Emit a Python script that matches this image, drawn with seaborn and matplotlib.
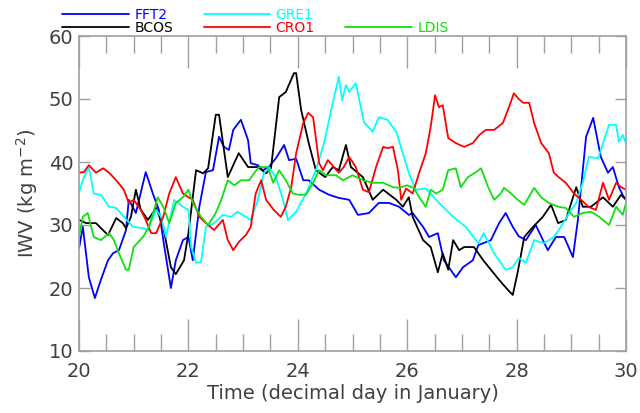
import seaborn as sns
import matplotlib.pyplot as plt
import pandas as pd
import numpy as np
from matplotlib.ticker import MultipleLocator

sns.set_style("white")
plt.rcParams['font.family'] = ['DejaVu Sans']

# IWV series (day, value)
fft2_day = [20.0, 20.07, 20.18, 20.29, 20.4, 20.53, 20.62, 20.73, 20.86, 20.91, 21.04, 21.22, 21.35,
            21.46, 21.55, 21.68, 21.77, 21.9, 22.0, 22.08, 22.2, 22.32, 22.45, 22.56, 22.65, 22.74,
            22.82, 22.96, 23.09, 23.14, 23.27, 23.36, 23.47, 23.6, 23.75, 23.84, 23.97, 24.1, 24.2,
            24.39, 24.57, 24.75, 24.94, 25.1, 25.3, 25.48, 25.67, 25.85, 26.03, 26.1, 26.29, 26.4,
            26.56, 26.67, 26.89, 27.02, 27.2, 27.3, 27.53, 27.68, 27.8, 27.93, 28.04, 28.17, 28.35,
            28.57, 28.72, 28.87, 29.03, 29.12, 29.27, 29.4, 29.54, 29.67, 29.76, 29.87, 29.96, 30.0]
fft2_iwv = [26.3, 29.7, 21.7, 18.4, 21.3, 24.4, 25.5, 26.0, 29.2, 34.0, 31.9, 38.4, 35.0,
            32.4, 27.1, 20.0, 24.4, 27.6, 28.1, 24.4, 32.9, 38.4, 38.7, 44.0, 42.4, 41.9,
            45.1, 46.7, 43.5, 39.8, 39.5, 38.7, 39.2, 40.6, 42.7, 40.3, 40.5, 37.1, 37.1,
            35.6, 34.8, 34.3, 34.0, 31.6, 31.9, 33.5, 33.5, 32.9, 31.6, 31.9, 29.7, 28.1,
            28.7, 24.4, 21.7, 23.3, 24.4, 26.8, 27.6, 30.3, 31.9, 29.7, 28.2, 27.6, 30.0,
            26.0, 28.1, 28.1, 24.9, 30.8, 44.0, 47.0, 40.8, 38.3, 39.2, 36.0, 34.4, 34.4]

bcos_day = [20.0, 20.13, 20.31, 20.53, 20.68, 20.8, 20.86, 20.95, 21.04, 21.13, 21.26, 21.41, 21.54,
            21.68, 21.77, 21.92, 22.0, 22.14, 22.27, 22.36, 22.5, 22.56, 22.72, 22.92, 23.09, 23.27,
            23.42, 23.51, 23.66, 23.78, 23.93, 23.97, 24.06, 24.2, 24.33, 24.5, 24.64, 24.75, 24.88,
            24.97, 25.19, 25.37, 25.56, 25.8, 25.92, 26.03, 26.1, 26.29, 26.43, 26.56, 26.65, 26.75,
            26.84, 26.95, 27.04, 27.22, 27.39, 27.53, 27.68, 27.84, 27.93, 28.02, 28.14, 28.3, 28.48,
            28.63, 28.76, 28.9, 29.09, 29.21, 29.36, 29.58, 29.76, 29.91, 30.0]
bcos_iwv = [30.8, 30.3, 30.3, 28.4, 31.1, 30.3, 29.5, 31.3, 35.6, 32.4, 30.8, 32.7, 29.7,
            23.3, 22.2, 24.4, 28.7, 38.7, 38.2, 39.0, 47.5, 47.5, 37.6, 41.4, 39.2, 39.2,
            38.2, 39.0, 50.3, 51.1, 54.1, 54.1, 48.3, 43.0, 38.7, 37.6, 39.2, 38.7, 42.7,
            39.2, 37.6, 34.0, 35.6, 34.0, 32.9, 34.4, 31.3, 27.6, 26.5, 22.5, 25.5, 22.9,
            27.6, 26.0, 26.5, 26.5, 24.4, 22.9, 21.3, 19.7, 18.9, 22.5, 28.1, 29.7, 31.3,
            33.2, 30.3, 30.8, 36.0, 32.9, 32.9, 34.4, 32.9, 34.8, 34.0]

gre1_day = [20.0, 20.09, 20.18, 20.27, 20.4, 20.55, 20.68, 20.82, 20.99, 21.17, 21.26, 21.41, 21.5,
            21.59, 21.74, 21.9, 22.0, 22.05, 22.14, 22.23, 22.32, 22.47, 22.63, 22.78, 22.9, 23.05,
            23.14, 23.27, 23.38, 23.47, 23.6, 23.73, 23.82, 23.97, 24.15, 24.33, 24.48, 24.64, 24.75,
            24.81, 24.88, 24.94, 25.06, 25.21, 25.37, 25.48, 25.64, 25.8, 25.92, 26.03, 26.16, 26.34,
            26.58, 26.84, 27.07, 27.3, 27.4, 27.59, 27.8, 27.93, 28.04, 28.17, 28.32, 28.5, 28.68,
            28.81, 28.96, 29.09, 29.21, 29.32, 29.49, 29.6, 29.69, 29.82, 29.87, 29.94, 30.0]
gre1_iwv = [35.2, 37.6, 39.2, 35.0, 34.8, 32.9, 32.7, 31.3, 29.7, 29.5, 29.2, 32.4, 31.3,
            28.1, 34.0, 32.9, 32.4, 26.5, 24.0, 24.1, 29.7, 30.3, 31.6, 31.3, 32.1, 31.3,
            30.8, 34.0, 38.2, 39.2, 37.6, 34.0, 30.8, 32.1, 35.0, 38.7, 43.0, 49.4, 53.5,
            49.8, 52.2, 51.1, 52.5, 46.3, 44.8, 47.1, 46.7, 44.8, 41.4, 38.2, 35.6, 35.8,
            33.5, 31.3, 29.7, 27.1, 28.7, 25.5, 22.9, 23.3, 24.8, 24.0, 27.6, 27.1, 28.1,
            29.7, 31.9, 33.5, 36.7, 40.8, 40.6, 43.5, 45.9, 45.9, 43.2, 44.3, 43.0]

cro1_day = [20.0, 20.09, 20.18, 20.31, 20.44, 20.55, 20.71, 20.82, 20.91, 21.0, 21.13, 21.22, 21.32,
            21.41, 21.54, 21.65, 21.77, 21.9, 22.0, 22.08, 22.2, 22.32, 22.47, 22.63, 22.72, 22.82,
            22.92, 23.05, 23.14, 23.23, 23.33, 23.42, 23.56, 23.69, 23.78, 23.88, 23.97, 24.1, 24.19,
            24.28, 24.39, 24.46, 24.55, 24.66, 24.75, 24.84, 24.94, 25.06, 25.19, 25.3, 25.43, 25.56,
            25.64, 25.74, 25.83, 25.89, 25.98, 26.1, 26.22, 26.34, 26.43, 26.51, 26.58, 26.65, 26.75,
            26.89, 27.04, 27.2, 27.32, 27.44, 27.59, 27.75, 27.86, 27.95, 28.04, 28.12, 28.23, 28.32,
            28.45, 28.59, 28.68, 28.77, 28.9, 29.05, 29.18, 29.31, 29.45, 29.58, 29.69, 29.82, 29.91,
            30.0]
cro1_iwv = [38.3, 38.4, 39.5, 38.3, 39.0, 38.3, 36.8, 35.6, 33.5, 34.0, 32.4, 30.8, 28.7,
            28.7, 31.3, 35.0, 37.6, 35.0, 34.4, 34.0, 31.3, 30.3, 29.2, 30.8, 27.6, 26.0,
            27.3, 28.4, 29.7, 35.0, 37.1, 34.0, 32.4, 31.3, 32.9, 36.0, 41.4, 46.2, 47.8,
            47.1, 39.8, 38.7, 40.3, 39.2, 38.3, 39.2, 40.8, 39.2, 35.6, 35.2, 39.2, 42.4,
            42.2, 42.4, 38.7, 34.0, 35.8, 35.0, 38.3, 41.4, 45.6, 50.6, 48.7, 49.0, 43.8,
            43.0, 42.4, 43.0, 44.3, 45.1, 45.1, 46.2, 48.7, 50.9, 50.0, 49.4, 49.4, 46.2,
            43.0, 41.4, 38.3, 37.6, 36.7, 35.0, 34.0, 32.9, 32.4, 36.7, 34.0, 36.7, 36.0,
            35.6]

ldis_day = [20.0, 20.07, 20.16, 20.27, 20.4, 20.55, 20.64, 20.73, 20.86, 20.91, 21.0, 21.17, 21.28,
            21.44, 21.54, 21.65, 21.77, 21.9, 22.0, 22.08, 22.23, 22.36, 22.5, 22.6, 22.72, 22.84,
            22.96, 23.11, 23.2, 23.29, 23.45, 23.55, 23.66, 23.78, 23.91, 24.02, 24.15, 24.28, 24.39,
            24.52, 24.7, 24.83, 25.0, 25.19, 25.37, 25.56, 25.74, 25.85, 26.0, 26.12, 26.22, 26.34,
            26.43, 26.53, 26.65, 26.75, 26.89, 26.98, 27.11, 27.26, 27.35, 27.48, 27.59, 27.71, 27.77,
            27.9, 28.02, 28.14, 28.32, 28.45, 28.59, 28.76, 28.9, 29.05, 29.21, 29.36, 29.51, 29.69,
            29.82, 29.94, 30.0]
ldis_iwv = [28.1, 31.3, 31.9, 28.1, 27.6, 28.7, 27.6, 25.5, 22.9, 22.9, 26.5, 28.1, 29.7,
            34.4, 32.9, 30.3, 33.5, 34.4, 35.6, 33.5, 31.3, 30.0, 31.9, 34.0, 37.1, 36.3,
            37.1, 37.1, 38.2, 39.2, 39.2, 36.7, 38.7, 37.1, 35.0, 34.8, 34.8, 36.7, 38.7,
            37.9, 37.9, 37.1, 37.9, 37.1, 36.7, 36.7, 36.0, 35.9, 36.3, 35.9, 34.4, 32.9,
            35.6, 35.0, 35.6, 38.7, 39.0, 36.0, 37.6, 38.4, 39.0, 36.0, 34.0, 35.0, 35.9,
            35.0, 34.0, 33.2, 35.9, 34.4, 33.5, 32.9, 32.7, 31.3, 31.9, 32.1, 31.3, 30.0,
            32.9, 31.6, 33.5]

stations = ["FFT2", "BCOS", "GRE1", "CRO1", "LDIS"]
days = [fft2_day, bcos_day, gre1_day, cro1_day, ldis_day]
iwvs = [fft2_iwv, bcos_iwv, gre1_iwv, cro1_iwv, ldis_iwv]
colors = {"FFT2": "#0000ff", "BCOS": "#000000", "GRE1": "#00ffff",
          "CRO1": "#ff0000", "LDIS": "#10e010"}

df = pd.concat([pd.DataFrame({"day": d, "iwv": v, "station": s})
                for s, d, v in zip(stations, days, iwvs)], ignore_index=True)

grey = "#a0a0a0"
txt = "#404040"

fig = plt.figure(figsize=(6.4, 4.13), dpi=100)
ax = fig.add_axes([79 / 640, 1 - 351 / 413, (626 - 79) / 640, (351 - 36) / 413])

sns.lineplot(data=df, x="day", y="iwv", hue="station", hue_order=stations,
             palette=colors, estimator=None, linewidth=1.3, ax=ax, legend=False)

ax.set_xlim(20, 30)
ax.set_ylim(10, 60)
ax.xaxis.set_major_locator(MultipleLocator(2))
ax.xaxis.set_minor_locator(MultipleLocator(0.5))
ax.yaxis.set_major_locator(MultipleLocator(10))
ax.tick_params(axis="x", which="major", direction="in", length=23, width=1,
               color=grey, bottom=True, top=True, labelsize=14, labelcolor=txt, pad=8)
ax.tick_params(axis="x", which="minor", direction="in", length=12, width=1,
               color=grey, bottom=True, top=True)
ax.tick_params(axis="y", which="major", direction="in", length=8, width=1,
               color=grey, left=True, right=True, labelsize=14, labelcolor=txt, pad=4)
for sp in ax.spines.values():
    sp.set_color(grey)
    sp.set_linewidth(1.2)

ax.set_xlabel("Time (decimal day in January)", fontsize=14, color=txt, labelpad=2)
ax.set_ylabel("IWV (kg m$^{-2}$)", fontsize=14, color=txt, labelpad=6)

# two-row legend above the axes, text coloured like the lines
handles = {s: plt.Line2D([], [], color=colors[s], lw=1.3) for s in stations}
blank = plt.Line2D([], [], color="none")
order = [handles["FFT2"], handles["BCOS"], handles["GRE1"], handles["CRO1"], blank, handles["LDIS"]]
labels = ["FFT2", "BCOS", "GRE1", "CRO1", "", "LDIS"]
leg = fig.legend(order, labels, ncol=3, loc="upper left",
                 bbox_to_anchor=(62 / 640, 1 - 8 / 413), frameon=False,
                 fontsize=10, handlelength=4.8, handletextpad=0.4,
                 columnspacing=2.2, labelspacing=-0.05, borderpad=0, borderaxespad=0)
for t, h in zip(leg.get_texts(), order):
    t.set_color(h.get_color() if h is not blank else "none")

plt.savefig("out.png", dpi=100)
plt.close()
